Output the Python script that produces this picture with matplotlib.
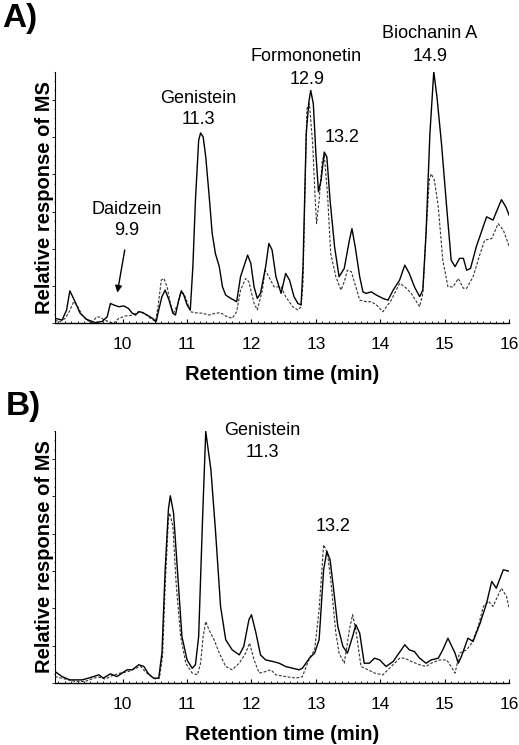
import matplotlib
matplotlib.use("Agg")
import matplotlib.pyplot as plt
from matplotlib.ticker import MultipleLocator, NullFormatter

plt.rcParams['font.family'] = ['Liberation Sans', 'DejaVu Sans']

# Panel A, solid trace
a_solid_t = [8.95, 9.06, 9.13, 9.18, 9.25, 9.34, 9.44, 9.57, 9.68, 9.76, 9.81, 9.86, 9.94, 10.02,
             10.09, 10.15, 10.20, 10.25, 10.30, 10.38, 10.46, 10.52, 10.56, 10.61, 10.66, 10.72,
             10.78, 10.82, 10.87, 10.91, 10.95, 11.00, 11.05, 11.09, 11.13, 11.18, 11.21, 11.25,
             11.29, 11.34, 11.39, 11.44, 11.50, 11.55, 11.60, 11.68, 11.77, 11.83, 11.94, 11.99,
             12.04, 12.09, 12.14, 12.22, 12.27, 12.32, 12.38, 12.46, 12.53, 12.59, 12.66, 12.72,
             12.77, 12.80, 12.85, 12.89, 12.92, 12.96, 13.00, 13.04, 13.08, 13.13, 13.17, 13.22,
             13.29, 13.36, 13.44, 13.52, 13.56, 13.61, 13.68, 13.73, 13.78, 13.86, 13.94, 14.04,
             14.12, 14.20, 14.30, 14.38, 14.45, 14.53, 14.61, 14.66, 14.71, 14.77, 14.83, 14.88,
             14.95, 15.03, 15.10, 15.16, 15.23, 15.29, 15.34, 15.40, 15.49, 15.65, 15.75, 15.88,
             15.95, 16.00]
a_solid = [2.0, 1.3, 5.3, 12.9, 9.2, 4.0, 1.6, 0.3, 0.7, 2.6, 7.9, 7.3, 6.6, 6.9,
           5.9, 4.0, 3.3, 4.6, 4.4, 3.3, 2.0, 0.7, 5.3, 10.6, 13.2, 9.2,
           4.0, 3.3, 9.2, 12.9, 11.2, 7.3, 5.3, 22.5, 48.9, 72.7, 75.6, 74.0,
           66.1, 51.5, 35.7, 27.7, 22.5, 14.5, 11.2, 9.9, 8.6, 18.5, 27.1, 23.8,
           14.5, 9.9, 11.9, 22.5, 31.7, 29.1, 18.5, 11.9, 19.8, 17.2, 10.6, 7.9,
           7.3, 22.5, 75.3, 87.8, 92.5, 87.2, 67.4, 52.2, 56.8, 68.0, 66.1, 48.9,
           30.4, 18.5, 21.8, 33.0, 37.6, 30.4, 18.5, 12.5, 11.9, 12.5, 11.2, 9.9,
           9.2, 13.2, 17.2, 23.1, 19.8, 14.5, 10.6, 13.2, 35.7, 75.3, 100.0, 89.8,
           71.3, 46.2, 25.1, 22.5, 25.8, 25.8, 21.1, 21.8, 30.4, 42.3, 41.0, 49.1,
           46.2, 42.9]

# Panel A, dashed trace
a_dash_t = [8.95, 9.03, 9.11, 9.17, 9.24, 9.29, 9.37, 9.44, 9.52, 9.60, 9.65, 9.70, 9.78, 9.86,
            9.94, 10.04, 10.15, 10.25, 10.33, 10.40, 10.51, 10.55, 10.60, 10.64, 10.69, 10.74,
            10.79, 10.85, 10.90, 10.95, 11.00, 11.05, 11.13, 11.24, 11.34, 11.44, 11.52, 11.60,
            11.70, 11.77, 11.83, 11.91, 11.96, 12.04, 12.09, 12.17, 12.21, 12.27, 12.35, 12.46,
            12.53, 12.64, 12.72, 12.77, 12.80, 12.83, 12.86, 12.90, 12.95, 12.99, 13.01, 13.05,
            13.10, 13.13, 13.18, 13.23, 13.31, 13.39, 13.44, 13.49, 13.55, 13.62, 13.68, 13.78,
            13.86, 13.94, 14.04, 14.17, 14.30, 14.38, 14.48, 14.61, 14.66, 14.71, 14.76, 14.79,
            14.84, 14.90, 14.97, 15.05, 15.13, 15.21, 15.29, 15.34, 15.44, 15.55, 15.62, 15.73,
            15.83, 15.91, 16.00]
a_dash = [1.1, 0.7, 2.0, 4.6, 8.6, 7.3, 3.3, 1.3, 0.3, 2.6, 2.4, 1.6, 0.7, 0.0,
          2.0, 2.9, 3.2, 4.6, 4.0, 2.6, 0.7, 6.6, 17.2, 17.8, 14.5, 7.9,
          4.0, 7.3, 11.9, 11.9, 8.6, 4.6, 4.2, 4.0, 3.3, 4.0, 4.2, 2.9,
          2.0, 4.6, 13.2, 17.8, 16.5, 7.9, 5.3, 13.2, 21.1, 18.5, 14.5, 14.5,
          10.6, 6.6, 5.3, 6.6, 15.9, 51.5, 85.2, 87.2, 71.3, 48.9, 39.6, 48.9,
          64.7, 66.7, 51.5, 27.7, 18.5, 13.2, 16.5, 21.1, 20.5, 14.5, 9.2, 8.6,
          8.6, 7.3, 4.6, 9.2, 15.9, 14.5, 11.9, 6.6, 11.9, 35.7, 56.8, 59.4,
          56.8, 46.2, 25.1, 14.5, 14.5, 17.8, 13.9, 13.9, 18.5, 27.7, 33.0, 33.7,
          39.6, 37.0, 30.6]

# Panel B, solid trace
b_solid_t = [8.95, 9.06, 9.18, 9.37, 9.47, 9.63, 9.70, 9.81, 9.91, 10.07, 10.15, 10.25, 10.33,
             10.40, 10.48, 10.56, 10.61, 10.66, 10.71, 10.74, 10.79, 10.85, 10.92, 11.00, 11.08,
             11.13, 11.18, 11.24, 11.29, 11.37, 11.44, 11.52, 11.60, 11.70, 11.81, 11.88, 11.96,
             12.00, 12.07, 12.14, 12.22, 12.33, 12.43, 12.53, 12.64, 12.74, 12.79, 12.90, 12.98,
             13.05, 13.12, 13.17, 13.22, 13.27, 13.34, 13.42, 13.49, 13.57, 13.62, 13.68, 13.75,
             13.83, 13.91, 13.99, 14.09, 14.20, 14.38, 14.45, 14.53, 14.61, 14.71, 14.79, 14.90,
             14.97, 15.05, 15.16, 15.21, 15.26, 15.36, 15.44, 15.55, 15.65, 15.73, 15.80, 15.91,
             16.00]
b_solid = [4.6, 2.6, 1.3, 1.3, 2.0, 3.3, 2.0, 3.7, 2.6, 5.3, 5.3, 7.3, 6.6,
           3.7, 2.0, 2.0, 11.9, 44.9, 68.7, 74.2, 67.4, 44.9, 18.5, 9.2, 5.9,
           7.3, 18.5, 64.7, 99.7, 84.5, 60.8, 30.4, 17.2, 13.2, 11.2, 14.5, 25.1,
           27.1, 19.8, 11.2, 9.2, 8.6, 7.9, 6.6, 5.9, 5.3, 5.9, 9.9, 11.9,
           17.2, 44.9, 52.2, 48.9, 38.3, 22.5, 14.5, 11.9, 18.5, 23.1, 19.8, 7.9,
           7.9, 9.9, 9.2, 6.6, 8.6, 15.2, 13.2, 12.5, 9.9, 7.9, 9.2, 9.9,
           13.2, 17.8, 11.9, 7.9, 10.6, 17.8, 16.5, 23.8, 31.7, 40.3, 37.6, 44.9,
           44.3]

# Panel B, dashed trace
b_dash_t = [8.95, 9.11, 9.26, 9.42, 9.55, 9.63, 9.73, 9.83, 9.96, 10.09, 10.20, 10.28, 10.35,
            10.43, 10.51, 10.57, 10.62, 10.66, 10.71, 10.73, 10.78, 10.83, 10.90, 10.98, 11.08,
            11.16, 11.21, 11.25, 11.29, 11.34, 11.42, 11.50, 11.60, 11.70, 11.81, 11.91, 11.97,
            12.04, 12.12, 12.22, 12.30, 12.38, 12.53, 12.69, 12.79, 12.90, 12.98, 13.05, 13.12,
            13.18, 13.23, 13.31, 13.36, 13.44, 13.52, 13.57, 13.62, 13.70, 13.81, 13.91, 14.04,
            14.17, 14.30, 14.38, 14.48, 14.61, 14.71, 14.79, 14.92, 15.03, 15.10, 15.16, 15.23,
            15.34, 15.42, 15.52, 15.60, 15.68, 15.75, 15.88, 15.96, 16.00]
b_dash = [2.6, 1.6, 0.7, 0.7, 2.0, 2.4, 1.6, 2.9, 4.0, 4.6, 5.9, 6.6, 4.6,
          2.9, 1.6, 2.0, 10.6, 38.3, 64.7, 67.4, 62.1, 39.6, 18.5, 7.9, 4.0,
          3.3, 7.9, 18.5, 24.4, 21.1, 17.2, 11.9, 6.6, 5.3, 7.9, 11.9, 15.9,
          9.2, 4.0, 4.6, 5.3, 3.3, 2.6, 2.0, 2.6, 9.9, 13.2, 29.1, 54.8,
          51.5, 41.0, 19.8, 11.9, 7.9, 21.1, 27.1, 21.1, 6.6, 5.3, 4.0, 3.3,
          6.6, 9.9, 9.9, 8.6, 7.3, 6.6, 7.9, 9.2, 9.2, 6.6, 4.0, 11.9,
          13.2, 15.9, 22.5, 30.4, 32.4, 30.4, 37.6, 34.3, 29.7]

x_ticks = [10, 11, 12, 13, 14, 15, 16]

fig = plt.figure(figsize=(5.19, 7.45), dpi=100)
ax_a = fig.add_axes([0.106, 0.566, 0.875, 0.338])
ax_b = fig.add_axes([0.106, 0.083, 0.875, 0.339])

dash_style = (0, (2.5, 1.5))

for ax, st, sy, dt, dy in [(ax_a, a_solid_t, a_solid, a_dash_t, a_dash),
                           (ax_b, b_solid_t, b_solid, b_dash_t, b_dash)]:
    ax.plot(dt, dy, color='#333333', lw=0.8, linestyle=dash_style)
    ax.plot(st, sy, color='black', lw=1.0, solid_joinstyle='round')
    ax.set_xlim(8.95, 16.0)
    ax.set_ylim(0, 100)
    ax.spines['top'].set_visible(False)
    ax.spines['right'].set_visible(False)
    ax.spines['left'].set_linewidth(0.8)
    ax.spines['bottom'].set_linewidth(1.0)
    ax.set_xticks(x_ticks)
    ax.xaxis.set_minor_locator(MultipleLocator(0.1))
    ax.tick_params(axis='x', which='major', direction='in', length=3, width=0.8,
                   labelsize=12.5, pad=10)
    ax.tick_params(axis='x', which='minor', direction='in', length=1.8, width=0.6)
    ax.yaxis.set_major_locator(MultipleLocator(14.8))
    ax.yaxis.set_minor_locator(MultipleLocator(3.7))
    ax.yaxis.set_major_formatter(NullFormatter())
    ax.tick_params(axis='y', which='major', direction='out', length=2.5, width=0.6)
    ax.tick_params(axis='y', which='minor', direction='out', length=1.0, width=0.5)
    ax.set_xlabel('Retention time (min)', fontsize=14.5, fontweight='bold', labelpad=9)
    ax.set_ylabel('Relative response of MS', fontsize=14.5, fontweight='bold', labelpad=-5)

# panel letters
fig.text(0.004, 0.975, 'A)', fontsize=24, fontweight='bold', va='center', ha='left')
fig.text(0.012, 0.454, 'B)', fontsize=24, fontweight='bold', va='center', ha='left')

lab = dict(fontsize=13, ha='center', va='center')
ax_a.text(11.18, 89.3, 'Genistein', **lab)
ax_a.text(11.18, 81.0, '11.3', **lab)
ax_a.text(12.85, 106.0, 'Formononetin', **lab)
ax_a.text(12.87, 96.8, '12.9', **lab)
ax_a.text(13.40, 73.8, '13.2', **lab)
ax_a.text(14.77, 115.0, 'Biochanin A', **lab)
ax_a.text(14.77, 106.0, '14.9', **lab)
ax_a.text(10.06, 45.2, 'Daidzein', **lab)
ax_a.text(10.06, 36.9, '9.9', **lab)
ax_a.annotate('', xy=(9.91, 11.1), xytext=(10.04, 30.2),
              arrowprops=dict(arrowstyle='-|>', color='black', lw=1.0, mutation_scale=10))

ax_b.text(12.17, 100.0, 'Genistein', **lab)
ax_b.text(12.17, 91.3, '11.3', **lab)
ax_b.text(13.26, 62.0, '13.2', **lab)

fig.savefig('out.png', dpi=100)
